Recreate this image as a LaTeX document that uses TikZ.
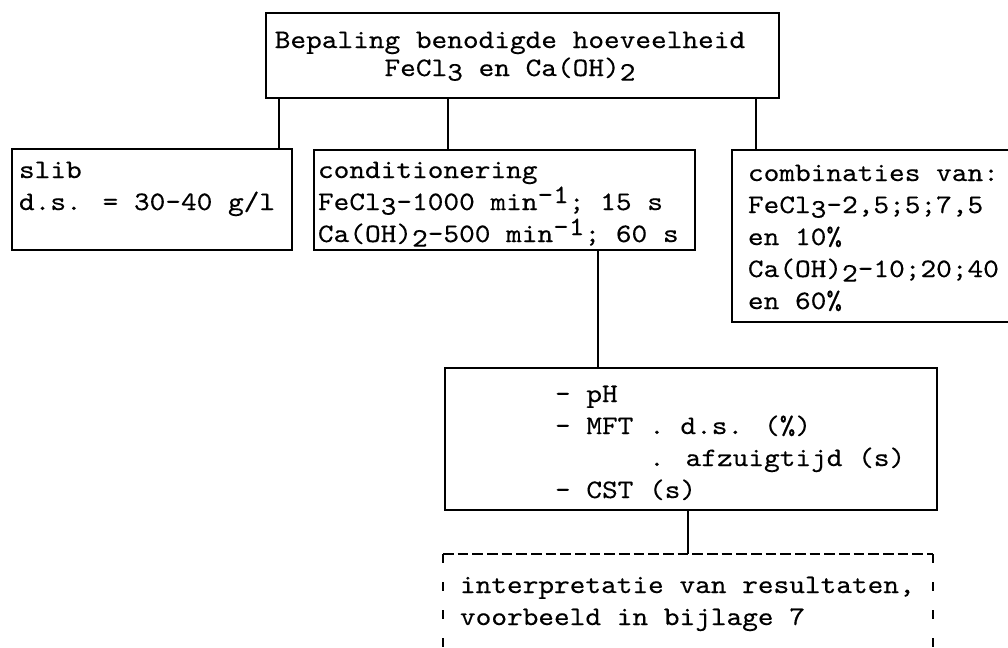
\documentclass[tikz,border=0pt]{standalone}
\usepackage{fontspec}
\newfontfamily\tw{lmmono10-regular.otf}[FakeStretch=1.12, FakeBold=0.3]
\newcommand\sbs[1]{\raisebox{-0.4ex}{#1}}
\newcommand\sps[1]{\raisebox{0.6ex}{#1}}
\newcommand\leftlines[2]{\vtop{\baselineskip=#1\lineskiplimit=-100pt\lineskip=0pt\halign{##\hfil\cr#2\crcr}}}
\newcommand\centerlines[2]{\vtop{\baselineskip=#1\lineskiplimit=-100pt\lineskip=0pt\halign{\hfil##\hfil\cr#2\crcr}}}
\tikzset{
  box/.style={draw, line width=1.4pt, anchor=north west, inner sep=0pt, outer sep=0pt},
  ghostbox/.style={anchor=north west, inner sep=0pt, outer sep=0pt},
  txt/.style={anchor=base west, inner sep=0pt, outer sep=0pt, font={\tw\fontsize{20pt}{24pt}\selectfont}},
  conn/.style={line width=1.4pt},
  dtop/.style={line width=1.4pt, dash pattern=on 8pt off 3pt},
  dside/.style={line width=1.4pt, dash pattern=on 7pt off 14pt}
}
\begin{document}
\begin{tikzpicture}[x=0.75pt, y=-0.75pt]
\useasboundingbox (0,0) rectangle (1008,647);
\fill[white] (0,0) rectangle (1008,647);
\clip (0,0) rectangle (1008,647);
% boxes
\node[box, minimum width={513*0.75pt}, minimum height={85*0.75pt}] (top) at (266,13) {};
\node[box, minimum width={280*0.75pt}, minimum height={101*0.75pt}] (slib) at (12,149) {};
\node[box, minimum width={381*0.75pt}, minimum height={100*0.75pt}] (cond) at (314,150) {};
\node[box, minimum width={330*0.75pt}, minimum height={172*0.75pt}] (comb) at (732,150) {};
\node[box, minimum width={492*0.75pt}, minimum height={142*0.75pt}] (meas) at (445,368) {};
\node[ghostbox, minimum width={490*0.75pt}, minimum height={130*0.75pt}] (interp) at (443,554) {};
\draw[dtop] (interp.north west) -- (interp.north east);
\draw[dside] (interp.north west) -- (interp.south west);
\draw[dside] (interp.north east) -- (interp.south east);
% texts
\node[txt, anchor=base] (toptext) at (510,48) {\centerlines{21pt}{Bepaling benodigde hoeveelheid\cr FeCl\sbs{3} en Ca(OH)\sbs{2}}};
\node[txt] (slibtext) at (19,178) {\leftlines{24pt}{slib\cr d.s. = 30-40 g/l}};
\node[txt] (condtext) at (318,178) {\leftlines{24pt}{conditionering\cr FeCl\sbs{3}-1000 min\sps{-1}; 15 s\cr Ca(OH)\sbs{2}-500 min\sps{-1}; 60 s}};
\node[txt] (combtext) at (748,181) {\leftlines{24pt}{combinaties van:\cr FeCl\sbs{3}-2,5;5;7,5\cr en 10\%\cr Ca(OH)\sbs{2}-10;20;40\cr en 60\%}};
\node[txt] (meastext) at (555,402) {\leftlines{24pt}{- pH\cr - MFT . d.s. (\%)\cr \hphantom{- MFT }. afzuigtijd (s)\cr - CST (s)}};
\node[txt] (interptext) at (460,593) {\leftlines{24pt}{interpretatie van resultaten,\cr voorbeeld in bijlage 7}};
% connectors
\coordinate (xa) at (279,0);
\coordinate (xb) at (448,0);
\coordinate (xc) at (756,0);
\coordinate (xd) at (598,0);
\coordinate (xe) at (688,0);
\draw[conn] (top.south -| xa) -- (slib.north -| xa);
\draw[conn] (top.south -| xb) -- (cond.north -| xb);
\draw[conn] (top.south -| xc) -- (comb.north -| xc);
\draw[conn] (cond.south -| xd) -- (meas.north -| xd);
\draw[conn] (meas.south -| xe) -- (interp.north -| xe);
\end{tikzpicture}
\end{document}
